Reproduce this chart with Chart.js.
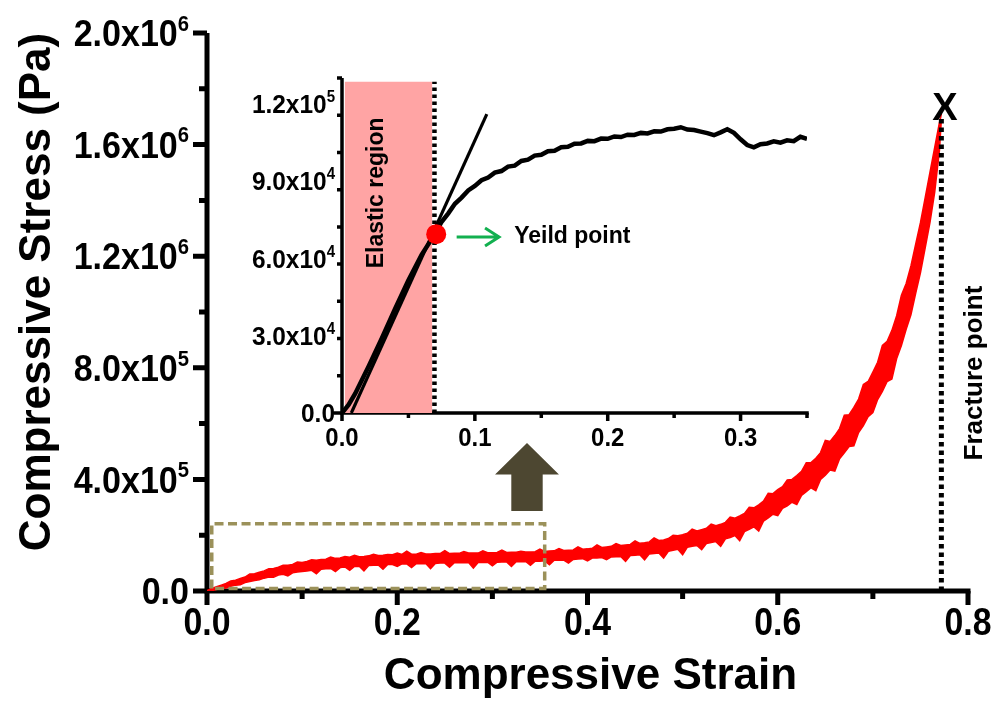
<!DOCTYPE html>
<html>
<head>
<meta charset="utf-8">
<script src="https://cdn.jsdelivr.net/npm/chart.js@4"></script>
<style>
  html, body { margin: 0; padding: 0; background: #fff; }
  #wrap { position: relative; width: 997px; height: 703px; }
  #main { position: absolute; left: 0; top: 0; }
  #inset { position: absolute; left: 230px; top: 60px; }
</style>
</head>
<body>
<div id="wrap">
  <canvas id="main" width="997" height="703"></canvas>
  <canvas id="inset" width="620" height="400"></canvas>
</div>
<script>
/* main curve: strain vs stress band (kPa) */
const strain = [
  0, 0.005, 0.01, 0.015, 0.02, 0.025, 0.03, 0.035, 0.04, 0.045,
  0.05, 0.055, 0.06, 0.065, 0.07, 0.075, 0.08, 0.085, 0.09, 0.095,
  0.1, 0.105, 0.11, 0.115, 0.12, 0.125, 0.13, 0.135, 0.14, 0.145,
  0.15, 0.155, 0.16, 0.165, 0.17, 0.175, 0.18, 0.185, 0.19, 0.195,
  0.2, 0.205, 0.21, 0.215, 0.22, 0.225, 0.23, 0.235, 0.24, 0.245,
  0.25, 0.255, 0.26, 0.265, 0.27, 0.275, 0.28, 0.285, 0.29, 0.295,
  0.3, 0.305, 0.31, 0.315, 0.32, 0.325, 0.33, 0.335, 0.34, 0.345,
  0.35, 0.355, 0.36, 0.365, 0.37, 0.375, 0.38, 0.385, 0.39, 0.395,
  0.4, 0.405, 0.41, 0.415, 0.42, 0.425, 0.43, 0.435, 0.44, 0.445,
  0.45, 0.455, 0.46, 0.465, 0.47, 0.475, 0.48, 0.485, 0.49, 0.495,
  0.5, 0.505, 0.51, 0.515, 0.52, 0.525, 0.53, 0.535, 0.54, 0.545,
  0.55, 0.555, 0.56, 0.565, 0.57, 0.575, 0.58, 0.585, 0.59, 0.595,
  0.6, 0.605, 0.61, 0.615, 0.62, 0.625, 0.63, 0.635, 0.64, 0.645,
  0.65, 0.655, 0.66, 0.665, 0.67, 0.675, 0.68, 0.685, 0.69, 0.695,
  0.7, 0.705, 0.71, 0.715, 0.72, 0.725, 0.73, 0.735, 0.74, 0.745,
  0.75, 0.755, 0.76, 0.765, 0.77, 0.772
];
const stressUpperKPa = [
  2, 9, 15, 21, 27, 36, 39, 45, 50, 61,
  62, 67, 72, 80, 81, 85, 92, 92, 95, 104,
  102, 106, 112, 110, 113, 114, 122, 117, 118, 124,
  121, 128, 123, 124, 126, 132, 127, 128, 131, 130,
  136, 131, 143, 132, 132, 138, 133, 133, 134, 134,
  145, 134, 135, 135, 141, 136, 136, 136, 144, 137,
  137, 138, 147, 138, 139, 139, 142, 140, 140, 141,
  150, 142, 143, 144, 152, 145, 146, 147, 158, 150,
  151, 153, 165, 156, 158, 160, 170, 163, 165, 167,
  180, 171, 173, 176, 190, 181, 183, 188, 200, 198,
  202, 207, 222, 215, 220, 225, 240, 234, 239, 246,
  265, 261, 269, 278, 300, 298, 309, 322, 350, 349,
  363, 374, 398, 400, 414, 429, 460, 460, 476, 496,
  540, 536, 557, 582, 630, 632, 658, 688, 740, 751,
  785, 820, 880, 895, 934, 987, 1060, 1102, 1165, 1243,
  1320, 1410, 1500, 1590, 1680, 1710
];
const stressLowerKPa = [
  0, 1, 5, 9, 11, 17, 21, 22, 30, 34,
  38, 40, 46, 50, 49, 57, 60, 54, 65, 68,
  70, 72, 74, 62, 78, 80, 81, 70, 84, 86,
  74, 88, 89, 72, 91, 92, 93, 78, 95, 95,
  88, 97, 97, 84, 98, 98, 99, 80, 99, 100,
  100, 85, 101, 101, 101, 102, 82, 102, 102, 103,
  90, 103, 104, 104, 88, 105, 105, 106, 92, 107,
  107, 108, 94, 110, 110, 111, 100, 113, 115, 116,
  108, 118, 118, 120, 112, 122, 123, 124, 106, 127,
  128, 130, 112, 133, 134, 136, 118, 142, 146, 150,
  130, 157, 160, 163, 148, 170, 174, 177, 160, 187,
  192, 199, 180, 213, 221, 230, 215, 250, 262, 275,
  270, 296, 305, 318, 310, 343, 356, 370, 360, 400,
  415, 434, 430, 474, 495, 518, 520, 568, 593, 625,
  640, 686, 715, 751, 760, 833, 880, 938, 990, 1067,
  1140, 1230, 1320, 1430, 1580, 1690
];

/* main axes */
const mainXTicks = [0, 0.2, 0.4, 0.6, 0.8];
const mainXLabels = ['0.0', '0.2', '0.4', '0.6', '0.8'];
const mainYTicks = [0, 4e5, 8e5, 1.2e6, 1.6e6, 2e6];
const mainYLabels = ['0.0', '4.0x10', '8.0x10', '1.2x10', '1.6x10', '2.0x10'];
const mainYExp = ['', '5', '5', '6', '6', '6'];

/* zoom box, arrow and fracture marker on the main chart */
const boxStrain = [0.005, 0.005, 0.355, 0.355, 0.005];
const boxStress = [9e3, 241e3, 241e3, 9e3, 9e3];
const fractureStrain = [0.772, 0.772];
const fractureStress = [0, 1.7e6];

/* inset: first part of the curve (Pa) */
const insetStrain = [
  0, 0.005, 0.01, 0.02, 0.03, 0.04, 0.05, 0.06, 0.07, 0.075,
  0.08, 0.085, 0.09, 0.095, 0.1, 0.105, 0.11, 0.115, 0.12, 0.125,
  0.13, 0.135, 0.14, 0.145, 0.15, 0.155, 0.16, 0.165, 0.17, 0.175,
  0.18, 0.185, 0.19, 0.195, 0.2, 0.205, 0.21, 0.215, 0.22, 0.225,
  0.23, 0.235, 0.24, 0.245, 0.25, 0.255, 0.26, 0.265, 0.27, 0.275,
  0.28, 0.285, 0.29, 0.295, 0.3, 0.305, 0.31, 0.315, 0.32, 0.325,
  0.33, 0.335, 0.34, 0.345, 0.35
];
const insetStress = [
  0, 3200, 7600, 18000, 29000, 40500, 51500, 61500, 69500, 74200,
  77500, 81200, 83600, 86400, 88100, 90300, 91400, 93300, 93900, 95600,
  96000, 97800, 98300, 99900, 100200, 101600, 101800, 103100, 103300, 104500,
  104600, 105600, 105500, 106500, 106400, 107300, 107100, 108000, 107900, 108700,
  108500, 109300, 109200, 110100, 110300, 110900, 110000, 109800, 109200, 108600,
  107800, 108900, 110100, 108700, 106200, 104000, 103100, 104300, 104600, 105400,
  104900, 105800, 105500, 107200, 106400
];
const fitStrain = [0.007, 0.109];
const fitStress = [0, 116000];
const yieldStrain = [0.0709];
const yieldStress = [69400];
const elasticStrain = [0.002, 0.068];
const elasticTop = [128500, 128500];
const elasticLimitStrain = [0.0696, 0.0696];
const elasticLimitStress = [0, 128500];

const insetXTicks = [0, 0.1, 0.2, 0.3];
const insetXLabels = ['0.0', '0.1', '0.2', '0.3'];
const insetYTicks = [0, 3e4, 6e4, 9e4, 1.2e5];
const insetYLabels = ['0.0', '3.0x10', '6.0x10', '9.0x10', '1.2x10'];
const insetYExp = ['', '4', '4', '4', '5'];

const FONT = '"Liberation Sans", Arial, Helvetica, sans-serif';
const pts = (xs, ys) => xs.map((x, i) => ({ x: x, y: ys[i] }));

function isMajor(v, list) {
  return list.some(t => Math.abs(t - v) <= 1e-6 * Math.max(1, Math.abs(t)));
}

// axis lines + tick marks, GraphPad style
function drawAxes(chart, c) {
  const ctx = chart.ctx, xs = chart.scales.x, ys = chart.scales.y;
  const l = xs.left, r = xs.right, t = ys.top, b = ys.bottom;
  ctx.save();
  ctx.strokeStyle = '#000';
  ctx.lineCap = 'butt';
  ctx.lineWidth = c.w;
  ctx.beginPath();
  ctx.moveTo(l, t); ctx.lineTo(l, b + c.w / 2);
  ctx.moveTo(l - c.w / 2, b); ctx.lineTo(r + c.w / 2, b);
  ctx.stroke();
  ctx.beginPath();
  xs.ticks.forEach(tk => {
    const p = xs.getPixelForValue(tk.value);
    const len = isMajor(tk.value, c.xMajor) ? c.major : c.minor;
    ctx.moveTo(p, b); ctx.lineTo(p, b + len);
  });
  ys.ticks.forEach(tk => {
    const p = ys.getPixelForValue(tk.value);
    const len = isMajor(tk.value, c.yMajor) ? c.major : c.minor;
    ctx.moveTo(l, p); ctx.lineTo(l - len, p);
  });
  ctx.stroke();
  ctx.restore();
}

// label like 2.0x10^6 ; x is right edge or center, sx squeezes the text a bit
function sciText(ctx, txt, sup, x, yc, size, align, sx) {
  const mainFont = 'bold ' + size + 'px ' + FONT;
  const supSize = Math.round(size * 0.6);
  const supFont = 'bold ' + supSize + 'px ' + FONT;
  ctx.font = mainFont;
  const w1 = ctx.measureText(txt).width * sx;
  ctx.font = supFont;
  const w2 = sup ? ctx.measureText(sup).width * sx : 0;
  const x0 = align === 'center' ? x - (w1 + w2) / 2 : x - w1 - w2;
  const base = yc + size * 0.358;
  ctx.save();
  ctx.textAlign = 'left';
  ctx.textBaseline = 'alphabetic';
  ctx.translate(x0, base);
  ctx.scale(sx, 1);
  ctx.font = mainFont;
  ctx.fillText(txt, 0, 0);
  if (sup) {
    ctx.font = supFont;
    ctx.fillText(sup, w1 / sx, -size * 0.42);
  }
  ctx.restore();
}

function drawTickLabels(chart, c) {
  const ctx = chart.ctx, xs = chart.scales.x, ys = chart.scales.y;
  ctx.save();
  ctx.fillStyle = '#000';
  c.xVals.forEach((v, i) => {
    sciText(ctx, c.xLab[i], '', xs.getPixelForValue(v), ys.bottom + c.xOff, c.xSize, 'center', c.sx);
  });
  c.yVals.forEach((v, i) => {
    sciText(ctx, c.yLab[i], c.yExp[i], xs.left - c.yOff, ys.getPixelForValue(v), c.ySize, 'right', c.sy);
  });
  ctx.restore();
}

function rotText(ctx, txt, x, y, font) {
  ctx.save();
  ctx.translate(x, y);
  ctx.rotate(-Math.PI / 2);
  ctx.font = font;
  ctx.textAlign = 'center';
  ctx.textBaseline = 'middle';
  ctx.fillText(txt, 0, 0);
  ctx.restore();
}

const mainAxes = { w: 5, major: 14, minor: 8, xMajor: mainXTicks, yMajor: mainYTicks };

const mainDecor = {
  id: 'mainDecor',
  beforeDatasetsDraw(chart) { drawAxes(chart, mainAxes); },
  afterDatasetsDraw(chart) {
    const ctx = chart.ctx, xs = chart.scales.x, ys = chart.scales.y;
    // big arrow pointing at the inset
    const cx = 0.3364, hw = 0.0336, sw = 0.0165;
    ctx.save();
    ctx.fillStyle = '#4d4731';
    ctx.beginPath();
    ctx.moveTo(xs.getPixelForValue(cx), ys.getPixelForValue(530700));
    ctx.lineTo(xs.getPixelForValue(cx + hw), ys.getPixelForValue(418000));
    ctx.lineTo(xs.getPixelForValue(cx + sw), ys.getPixelForValue(418000));
    ctx.lineTo(xs.getPixelForValue(cx + sw), ys.getPixelForValue(286500));
    ctx.lineTo(xs.getPixelForValue(cx - sw), ys.getPixelForValue(286500));
    ctx.lineTo(xs.getPixelForValue(cx - sw), ys.getPixelForValue(418000));
    ctx.lineTo(xs.getPixelForValue(cx - hw), ys.getPixelForValue(418000));
    ctx.closePath();
    ctx.fill();
    ctx.restore();
  },
  afterDraw(chart) {
    const ctx = chart.ctx, xs = chart.scales.x, ys = chart.scales.y, a = chart.chartArea;
    drawTickLabels(chart, {
      xVals: mainXTicks, xLab: mainXLabels, xOff: 30, xSize: 38, sx: 0.89,
      yVals: mainYTicks, yLab: mainYLabels, yExp: mainYExp, yOff: 18, ySize: 37, sy: 0.92
    });
    ctx.save();
    ctx.fillStyle = '#000';
    rotText(ctx, 'Compressive Stress (Pa)', 38, (a.top + a.bottom) / 2 - 20, 'bold 44px ' + FONT);
    ctx.font = 'bold 44px ' + FONT;
    ctx.textAlign = 'center';
    ctx.textBaseline = 'middle';
    ctx.fillText('Compressive Strain', (a.left + a.right) / 2 + 3, a.bottom + 86);
    ctx.font = 'bold 38px ' + FONT;
    ctx.fillText('X', xs.getPixelForValue(0.7758), ys.getPixelForValue(1.727e6));
    rotText(ctx, 'Fracture point', xs.getPixelForValue(0.807), ys.getPixelForValue(781000), 'bold 26px ' + FONT);
    ctx.restore();
  }
};

const insetAxes = { w: 3.5, major: 8, minor: 5, xMajor: insetXTicks, yMajor: insetYTicks };

const insetDecor = {
  id: 'insetDecor',
  beforeDatasetsDraw(chart) { drawAxes(chart, insetAxes); },
  afterDraw(chart) {
    const ctx = chart.ctx, xs = chart.scales.x, ys = chart.scales.y;
    drawTickLabels(chart, {
      xVals: insetXTicks, xLab: insetXLabels, xOff: 24, xSize: 26, sx: 0.92,
      yVals: insetYTicks, yLab: insetYLabels, yExp: insetYExp, yOff: 7, ySize: 26, sy: 0.94
    });
    ctx.save();
    ctx.fillStyle = '#000';
    rotText(ctx, 'Elastic region', xs.getPixelForValue(0.0263), ys.getPixelForValue(85400), 'bold 23px ' + FONT);
    // green arrow to the yield label
    const y = ys.getPixelForValue(68300);
    const x0 = xs.getPixelForValue(0.0863), x1 = xs.getPixelForValue(0.1182);
    ctx.strokeStyle = '#12b04f';
    ctx.lineWidth = 3;
    ctx.beginPath();
    ctx.moveTo(x0, y); ctx.lineTo(x1, y);
    ctx.moveTo(x1 - 14, y - 9); ctx.lineTo(x1, y); ctx.lineTo(x1 - 14, y + 9);
    ctx.stroke();
    ctx.font = 'bold 23px ' + FONT;
    ctx.textAlign = 'left';
    ctx.textBaseline = 'middle';
    ctx.fillText('Yeild point', xs.getPixelForValue(0.1296), y);
    ctx.restore();
  }
};

const noGrid = { display: false, drawTicks: false };

new Chart(document.getElementById('main'), {
  type: 'line',
  data: {
    datasets: [
      { data: pts(fractureStrain, fractureStress), borderColor: '#000', borderWidth: 5,
        borderDash: [4.5, 4], pointRadius: 0, fill: false, order: 1 },
      { data: pts(boxStrain, boxStress), borderColor: '#9b915a', borderWidth: 3.5,
        borderDash: [9, 4.5], pointRadius: 0, fill: false, order: 2 },
      { data: pts(strain, stressLowerKPa.map(v => v * 1000)), borderColor: '#ff0000',
        borderWidth: 1.5, pointRadius: 0, fill: false, order: 4 },
      { data: pts(strain, stressUpperKPa.map(v => v * 1000)), borderColor: '#ff0000',
        backgroundColor: '#ff0000', borderWidth: 1.5, pointRadius: 0, fill: 2, order: 3 }
    ]
  },
  options: {
    responsive: false,
    animation: false,
    events: [],
    layout: { padding: { top: 33, right: 29, left: 0, bottom: 0 } },
    plugins: { legend: { display: false }, tooltip: { enabled: false } },
    scales: {
      x: { type: 'linear', min: 0, max: 0.8, ticks: { display: false, stepSize: 0.1 },
           grid: noGrid, border: { display: false }, afterFit: s => { s.height = 112; } },
      y: { type: 'linear', min: 0, max: 2e6, ticks: { display: false, stepSize: 2e5 },
           grid: noGrid, border: { display: false }, afterFit: s => { s.width = 207; } }
    }
  },
  plugins: [mainDecor]
});

new Chart(document.getElementById('inset'), {
  type: 'line',
  data: {
    datasets: [
      { data: pts(yieldStrain, yieldStress), showLine: false, pointRadius: 10,
        pointBackgroundColor: '#ff0000', pointBorderColor: '#ff0000', pointBorderWidth: 0, order: 1 },
      { data: pts(insetStrain, insetStress), borderColor: '#000', borderWidth: 4.5,
        pointRadius: 0, fill: false, order: 2 },
      { data: pts(fitStrain, fitStress), borderColor: '#000', borderWidth: 3.2,
        pointRadius: 0, fill: false, order: 3 },
      { data: pts(elasticLimitStrain, elasticLimitStress), borderColor: '#000', borderWidth: 4.5,
        borderDash: [3.5, 3.5], pointRadius: 0, fill: false, order: 4 },
      { data: pts(elasticStrain, elasticTop), borderWidth: 0, borderColor: 'rgba(0,0,0,0)',
        backgroundColor: '#ffa4a4', pointRadius: 0, fill: 'origin', order: 5 }
    ]
  },
  options: {
    responsive: false,
    animation: false,
    events: [],
    layout: { padding: { top: 18, right: 43, left: 0, bottom: 0 } },
    plugins: { legend: { display: false }, tooltip: { enabled: false } },
    scales: {
      x: { type: 'linear', min: 0, max: 0.35, ticks: { display: false, stepSize: 0.05 },
           grid: noGrid, border: { display: false }, afterFit: s => { s.height = 47; } },
      y: { type: 'linear', min: 0, max: 130000, ticks: { display: false, stepSize: 15000, includeBounds: false },
           grid: noGrid, border: { display: false }, afterFit: s => { s.width = 112; } }
    }
  },
  plugins: [insetDecor]
});
</script>
</body>
</html>
